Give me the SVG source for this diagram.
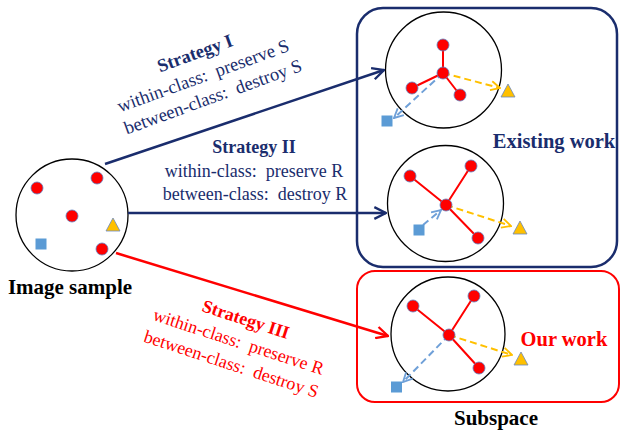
<svg xmlns="http://www.w3.org/2000/svg" width="621" height="432" viewBox="0 0 621 432">
  <style>
    text { font-family: "Liberation Serif", "Times New Roman", serif; white-space: pre; }
    .b { font-weight: bold; }
    .navy { fill: #1a2d6d; }
    .red { fill: #ff0000; }
    .blk { fill: #000000; }
    .ring { fill: #ffffff; stroke: #000000; stroke-width: 1.3; }
    .dot { fill: #ff0000; stroke: #5b7fc0; stroke-width: 0.8; }
    .tri { fill: #ffc000; stroke: #6a88c0; stroke-width: 0.8; }
    .sq { fill: #5b9bd5; }
    .edge { stroke: #ff0000; stroke-width: 2; fill: none; }
    .dashY { stroke: #ffc000; stroke-width: 2; stroke-dasharray: 7 4; fill: none; }
    .dashB { stroke: #6fa0d8; stroke-width: 2; stroke-dasharray: 7 4; fill: none; }
  </style>
  <defs>
    <marker id="hNavy" viewBox="0 0 12 12" refX="11" refY="6" markerWidth="14" markerHeight="14" markerUnits="userSpaceOnUse" orient="auto">
      <path d="M1,1 L11,6 L1,11" fill="none" stroke="#1a2d6d" stroke-width="2"/>
    </marker>
    <marker id="hRed" viewBox="0 0 12 12" refX="11" refY="6" markerWidth="14" markerHeight="14" markerUnits="userSpaceOnUse" orient="auto">
      <path d="M1,1 L11,6 L1,11" fill="none" stroke="#ff0000" stroke-width="2"/>
    </marker>
    <marker id="hY" viewBox="0 0 12 12" refX="11" refY="6" markerWidth="11" markerHeight="11" markerUnits="userSpaceOnUse" orient="auto">
      <path d="M1,1 L11,6 L1,11" fill="none" stroke="#ffc000" stroke-width="2"/>
    </marker>
    <marker id="hB" viewBox="0 0 12 12" refX="11" refY="6" markerWidth="11" markerHeight="11" markerUnits="userSpaceOnUse" orient="auto">
      <path d="M1,1 L11,6 L1,11" fill="none" stroke="#6fa0d8" stroke-width="2"/>
    </marker>
  </defs>

  <rect width="621" height="432" fill="#ffffff"/>

  <!-- Frames around the two groups of methods -->
  <g id="existing-work">
    <rect x="357" y="8" width="260" height="259" rx="26" fill="none" stroke="#1a2d6d" stroke-width="2.5"/>
    <text class="b navy" x="554" y="148" font-size="20.5" text-anchor="middle">Existing work</text>
  </g>
  <g id="our-work">
    <rect x="357" y="271" width="262" height="131" rx="18" fill="none" stroke="#ff0000" stroke-width="2"/>
    <text class="b red" x="564" y="346" font-size="20.5" text-anchor="middle">Our work</text>
    <text class="b blk" x="496" y="425" font-size="21" text-anchor="middle">Subspace</text>
  </g>

  <!-- Input sample -->
  <g id="image-sample">
    <circle class="ring" cx="72" cy="215" r="56"/>
    <circle class="dot" cx="37" cy="188" r="6"/>
    <circle class="dot" cx="97" cy="178" r="6"/>
    <circle class="dot" cx="72" cy="216" r="6"/>
    <circle class="dot" cx="102" cy="249" r="6"/>
    <polygon class="tri" points="113,218 120,231 106,231"/>
    <rect class="sq" x="35.5" y="238.5" width="11" height="11"/>
    <text class="b blk" x="70" y="294" font-size="21" text-anchor="middle">Image sample</text>
  </g>

  <!-- Strategy I result -->
  <g id="space-strategy-1">
    <circle class="ring" cx="443.5" cy="70" r="58"/>
    <path class="edge" d="M443,73 L443,45 M443,73 L412,88 M443,73 L460,95"/>
    <path class="dashY" d="M443,73 L500,88" marker-end="url(#hY)"/>
    <path class="dashB" d="M443,73 L394,118" marker-end="url(#hB)"/>
    <circle class="dot" cx="443" cy="45" r="6"/>
    <circle class="dot" cx="412" cy="88" r="6"/>
    <circle class="dot" cx="460" cy="95" r="6"/>
    <circle class="dot" cx="443" cy="73" r="6"/>
    <polygon class="tri" points="508,84 515,97 501,97"/>
    <rect class="sq" x="381.5" y="115.5" width="11" height="11"/>
  </g>

  <!-- Strategy II result -->
  <g id="space-strategy-2">
    <circle class="ring" cx="445.5" cy="203.5" r="58"/>
    <path class="edge" d="M446,205 L410,176 M446,205 L471,166 M446,205 L478,238"/>
    <path class="dashY" d="M446,205 L511,226" marker-end="url(#hY)"/>
    <path class="dashB" d="M423,225 L441,210" marker-end="url(#hB)"/>
    <circle class="dot" cx="410" cy="176" r="6"/>
    <circle class="dot" cx="471" cy="166" r="6"/>
    <circle class="dot" cx="478" cy="238" r="6"/>
    <circle class="dot" cx="446" cy="205" r="6"/>
    <polygon class="tri" points="520,221 527,234 513,234"/>
    <rect class="sq" x="413.5" y="224.5" width="11" height="11"/>
  </g>

  <!-- Strategy III result -->
  <g id="space-strategy-3">
    <circle class="ring" cx="448" cy="334" r="57"/>
    <path class="edge" d="M449,335 L413,306 M449,335 L474,296 M449,335 L479,368"/>
    <path class="dashY" d="M449,335 L512,355" marker-end="url(#hY)"/>
    <path class="dashB" d="M449,335 L403,382" marker-end="url(#hB)"/>
    <circle class="dot" cx="413" cy="306" r="6"/>
    <circle class="dot" cx="474" cy="296" r="6"/>
    <circle class="dot" cx="479" cy="368" r="6"/>
    <circle class="dot" cx="449" cy="335" r="6"/>
    <polygon class="tri" points="521,352 528,365 514,365"/>
    <rect class="sq" x="391" y="381.5" width="11" height="11"/>
  </g>

  <!-- Strategy arrows -->
  <g id="connectors" fill="none">
    <path d="M105,164 L384,70" stroke="#1a2d6d" stroke-width="2.5" marker-end="url(#hNavy)"/>
    <path d="M128,213 L386,213" stroke="#1a2d6d" stroke-width="2.5" marker-end="url(#hNavy)"/>
    <path d="M116,253 L388,336" stroke="#ff0000" stroke-width="2.5" marker-end="url(#hRed)"/>
  </g>

  <!-- Strategy labels -->
  <g id="label-strategy-1" transform="translate(197,59) rotate(-20)" text-anchor="middle" font-size="18.5">
    <text class="b navy" x="0" y="0">Strategy I</text>
    <text class="navy" x="0" y="24">within-class:  preserve S</text>
    <text class="navy" x="2" y="47">between-class:  destroy S</text>
  </g>
  <g id="label-strategy-2" text-anchor="middle" font-size="18">
    <text class="b navy" x="254" y="153">Strategy II</text>
    <text class="navy" x="254" y="177">within-class:  preserve R</text>
    <text class="navy" x="255" y="200">between-class:  destroy R</text>
  </g>
  <g id="label-strategy-3" transform="translate(244,325) rotate(18)" text-anchor="middle" font-size="18">
    <text class="b red" x="0" y="0">Strategy III</text>
    <text class="red" x="0" y="23.5">within-class:  preserve R</text>
    <text class="red" x="0" y="47">between-class:  destroy S</text>
  </g>
</svg>
